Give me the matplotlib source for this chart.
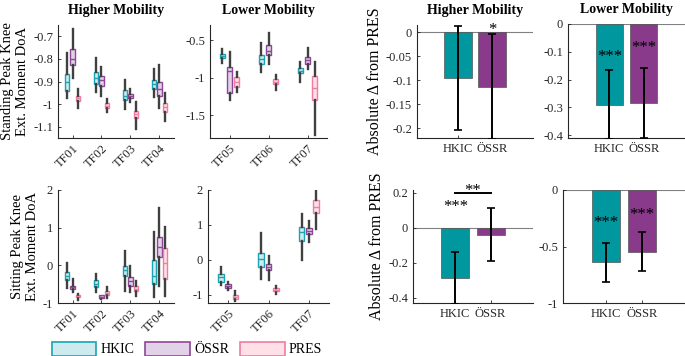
import matplotlib
matplotlib.use('Agg')
import matplotlib.pyplot as plt
from matplotlib.patches import Patch
from matplotlib.ticker import FuncFormatter

plt.rcParams['font.family'] = ['Liberation Serif', 'DejaVu Serif']
plt.rcParams['axes.unicode_minus'] = False

devices = ['HKIC', 'ÖSSR', 'PRES']
edge_cols = ['#1BA3B1', '#8E4796', '#F27BA0']
fill_cols = ['#CDEBEF', '#E1D2E7', '#FDE0E8']
bar_cols = ['#00979F', '#8A3A8A']

high_tf = ['TF01', 'TF02', 'TF03', 'TF04']
low_tf = ['TF05', 'TF06', 'TF07']

# five-number summaries: whisker low, q1, median, q3, whisker high
stand_high_hkic = [[-0.972, -0.943, -0.901, -0.869, -0.772], [-0.948, -0.909, -0.884, -0.859, -0.796],
                   [-1.023, -0.982, -0.963, -0.938, -0.894], [-0.968, -0.931, -0.912, -0.894, -0.846]]
stand_high_ossr = [[-0.884, -0.825, -0.801, -0.754, -0.669], [-0.965, -0.920, -0.894, -0.876, -0.835],
                   [-0.991, -0.975, -0.965, -0.957, -0.934], [-1.019, -0.965, -0.935, -0.904, -0.828]]
stand_high_pres = [[-1.019, -0.985, -0.972, -0.963, -0.935], [-1.034, -1.019, -1.009, -0.997, -0.979],
                   [-1.112, -1.063, -1.045, -1.031, -0.990], [-1.075, -1.034, -1.015, -0.997, -0.953]]

stand_low_hkic = [[-0.808, -0.742, -0.711, -0.685, -0.619], [-0.918, -0.817, -0.755, -0.698, -0.535],
                  [-1.051, -0.941, -0.905, -0.874, -0.786]]
stand_low_ossr = [[-1.293, -1.205, -0.910, -0.852, -0.663], [-0.817, -0.698, -0.641, -0.566, -0.403],
                  [-0.883, -0.817, -0.764, -0.720, -0.610]]
stand_low_pres = [[-1.183, -1.126, -1.051, -0.985, -0.918], [-1.161, -1.081, -1.051, -1.020, -0.963],
                  [-1.764, -1.293, -1.139, -0.971, -0.786]]

sit_high_hkic = [[-0.60, -0.38, -0.29, -0.18, 0.07], [-0.72, -0.57, -0.49, -0.40, -0.23],
                 [-0.69, -0.27, -0.13, -0.02, 0.39], [-0.84, -0.49, -0.27, 0.13, 0.88]]
sit_high_ossr = [[-0.72, -0.64, -0.58, -0.54, -0.36], [-0.89, -0.87, -0.83, -0.80, -0.78],
                 [-0.72, -0.56, -0.42, -0.32, -0.01], [-0.56, 0.23, 0.49, 0.76, 1.53]]
sit_high_pres = [[-0.91, -0.85, -0.82, -0.80, -0.75], [-0.87, -0.80, -0.73, -0.69, -0.57],
                 [-0.82, -0.67, -0.62, -0.56, -0.42], [-0.82, -0.36, 0.07, 0.46, 1.02]]

sit_low_hkic = [[-0.71, -0.62, -0.48, -0.41, -0.19], [-0.54, -0.21, 0.02, 0.19, 0.78],
                [0.00, 0.54, 0.81, 0.95, 1.31]]
sit_low_ossr = [[-0.86, -0.79, -0.74, -0.70, -0.62], [-0.57, -0.29, -0.21, -0.11, 0.12],
                [0.50, 0.74, 0.84, 0.90, 1.10]]
sit_low_pres = [[-1.17, -1.12, -1.05, -1.00, -0.90], [-0.97, -0.90, -0.86, -0.81, -0.74],
                [0.88, 1.33, 1.50, 1.70, 1.98]]

# mean absolute difference from PRES and error bar half-widths
stand_high_delta = [-0.095, -0.113]
stand_high_err = [0.108, 0.110]
stand_low_delta = [-0.290, -0.285]
stand_low_err = [0.125, 0.125]
sit_high_delta = [-0.288, -0.040]
sit_high_err = [0.147, 0.150]
sit_low_delta = [-0.640, -0.545]
sit_low_err = [0.175, 0.175]

fmt = FuncFormatter(lambda v, p: '%g' % round(v, 4))


def style_axes(ax):
    ax.spines['top'].set_visible(False)
    ax.spines['right'].set_visible(False)
    for s in ['left', 'bottom']:
        ax.spines[s].set_color('#262626')
        ax.spines[s].set_linewidth(0.8)
    ax.tick_params(direction='in', length=2.5, width=0.6, labelsize=9, colors='#262626')
    ax.yaxis.set_major_formatter(fmt)


def draw_boxes(ax, series, names, offset, width):
    for k, stats in enumerate(series):
        bstats = [dict(whislo=s[0], q1=s[1], med=s[2], q3=s[3], whishi=s[4], fliers=[]) for s in stats]
        pos = [i + 1 + (k - 1) * offset for i in range(len(stats))]
        ax.bxp(bstats, positions=pos, widths=width, patch_artist=True, showcaps=False,
               showfliers=False, manage_ticks=False,
               boxprops=dict(facecolor=fill_cols[k], edgecolor=edge_cols[k], linewidth=1.0),
               medianprops=dict(color=edge_cols[k], linewidth=1.0),
               whiskerprops=dict(color='#404040', linewidth=1.7))
    ax.set_xlim(0.5, len(names) + 0.5)
    ax.set_xticks(range(1, len(names) + 1))
    ax.set_xticklabels(names, rotation=45, ha='right', rotation_mode='anchor', fontsize=9.5)
    style_axes(ax)


def draw_bars(ax, delta, err):
    ax.bar([1, 2], delta, width=0.8, color=bar_cols, edgecolor='#555555', linewidth=0.5, zorder=2)
    ax.errorbar([1, 2], delta, yerr=err, fmt='none', ecolor='black', elinewidth=1.4,
                capsize=3, capthick=1.2, zorder=3)
    ax.axhline(0, color='#808080', linewidth=0.8, zorder=1)
    ax.set_xlim(-0.2, 3.2)
    ax.set_xticks([1, 2])
    ax.set_xticklabels(['HKIC', 'ÖSSR'], fontsize=10.5)
    style_axes(ax)


fig = plt.figure(figsize=(6.85, 3.56), dpi=100)
W, H = 685.0, 356.0


def add_ax(x0, x1, y0, y1):
    return fig.add_axes([x0 / W, 1 - y1 / H, (x1 - x0) / W, (y1 - y0) / H])


ax1 = add_ax(58, 174, 25, 138)
ax2 = add_ax(210, 327, 25, 138)
ax3 = add_ax(58, 174, 190, 303)
ax4 = add_ax(208, 329, 190, 303)
ax5 = add_ax(417, 533, 25, 138)
ax6 = add_ax(568, 685, 24, 138)
ax7 = add_ax(413, 533, 190, 303)
ax8 = add_ax(563, 685, 190, 303)

draw_boxes(ax1, [stand_high_hkic, stand_high_ossr, stand_high_pres], high_tf, 0.19, 0.17)
ax1.set_ylim(-1.15, -0.65)
ax1.set_yticks([-1.1, -1, -0.9, -0.8, -0.7])
draw_boxes(ax2, [stand_low_hkic, stand_low_ossr, stand_low_pres], low_tf, 0.18, 0.14)
ax2.set_ylim(-1.8, -0.3)
ax2.set_yticks([-1.5, -1, -0.5])
draw_boxes(ax3, [sit_high_hkic, sit_high_ossr, sit_high_pres], high_tf, 0.19, 0.17)
ax3.set_ylim(-1, 2)
ax3.set_yticks([-1, 0, 1, 2])
draw_boxes(ax4, [sit_low_hkic, sit_low_ossr, sit_low_pres], low_tf, 0.18, 0.14)
ax4.set_ylim(-1.23, 2)
ax4.set_yticks([-1, 0, 1, 2])

ax1.set_ylabel('Standing Peak Knee\nExt. Moment DoA', fontsize=10.5, labelpad=3)
ax3.set_ylabel('Sitting Peak Knee\nExt. Moment DoA', fontsize=10.5, labelpad=3)
for ax, t in [(ax1, 'Higher Mobility'), (ax2, 'Lower Mobility'),
              (ax5, 'Higher Mobility'), (ax6, 'Lower Mobility')]:
    ax.set_title(t, fontsize=10, fontweight='bold', pad=8)

draw_bars(ax5, stand_high_delta, stand_high_err)
ax5.set_ylim(-0.22, 0.015)
ax5.set_yticks([-0.2, -0.15, -0.1, -0.05, 0])
ax5.text(2, 0.004, '*', ha='center', va='center', fontsize=12, clip_on=False)

draw_bars(ax6, stand_low_delta, stand_low_err)
ax6.set_ylim(-0.41, 0)
ax6.set_yticks([-0.4, -0.3, -0.2, -0.1, 0])
ax6.text(1, -0.12, '***', ha='center', va='center', fontsize=12)
ax6.text(2, -0.086, '***', ha='center', va='center', fontsize=12)

draw_bars(ax7, sit_high_delta, sit_high_err)
ax7.set_ylim(-0.43, 0.215)
ax7.set_yticks([-0.4, -0.2, 0, 0.2])
ax7.text(1, 0.118, '***', ha='center', va='center', fontsize=12)
ax7.plot([1, 2], [0.2, 0.2], color='black', linewidth=1.4, clip_on=False)
ax7.text(1.5, 0.212, '**', ha='center', va='center', fontsize=12, clip_on=False)

draw_bars(ax8, sit_low_delta, sit_low_err)
ax8.set_ylim(-1, 0)
ax8.set_yticks([-1, -0.5, 0])
ax8.text(1, -0.295, '***', ha='center', va='center', fontsize=12)
ax8.text(2, -0.225, '***', ha='center', va='center', fontsize=12)

ax5.set_ylabel('Absolute Δ from PRES', fontsize=11.5, labelpad=2)
ax7.set_ylabel('Absolute Δ from PRES', fontsize=11.5, labelpad=2)

handles = [Patch(facecolor=fill_cols[i], edgecolor=edge_cols[i], linewidth=1.2, label=devices[i])
           for i in range(3)]
fig.legend(handles=handles, loc='center', bbox_to_anchor=(187 / W, 1 - 349 / H), ncol=3,
           frameon=False, fontsize=10, handlelength=3.2, handleheight=1.2,
           handletextpad=0.3, columnspacing=0.8)

fig.savefig('out.png', dpi=100)
